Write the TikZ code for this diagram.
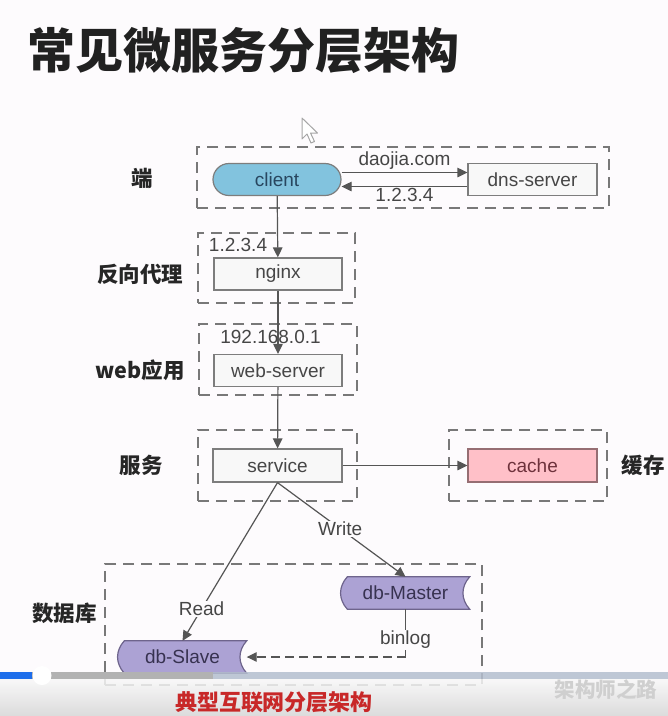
\documentclass[tikz,border=0pt]{standalone}
\usepackage{fontspec}
\setmainfont{Liberation Sans}
\newfontfamily\cjk{Noto Sans CJK SC}
\usetikzlibrary{arrows.meta,backgrounds,calc}

\definecolor{paper}{RGB}{253,251,253}
\definecolor{edgec}{RGB}{85,85,85}
\definecolor{boxline}{RGB}{125,125,125}
\definecolor{boxfill}{RGB}{248,248,248}
\definecolor{txt}{RGB}{70,70,70}
\definecolor{clientfill}{RGB}{130,195,222}
\definecolor{clienttxt}{RGB}{40,70,95}
\definecolor{cachefill}{RGB}{255,192,200}
\definecolor{cacheline}{RGB}{150,110,115}
\definecolor{cachetxt}{RGB}{110,50,60}
\definecolor{dbfill}{RGB}{172,162,212}
\definecolor{dbline}{RGB}{110,100,140}
\definecolor{dbtxt}{RGB}{55,50,80}
\definecolor{grpline}{RGB}{120,120,120}
\definecolor{capred}{RGB}{200,40,40}
\definecolor{barblue}{RGB}{30,110,235}
\definecolor{barrest}{RGB}{180,190,206}

% outline of a "stored data" symbol around a named node
\newcommand\storedata[1]{%
  \filldraw[fill=dbfill, draw=dbline, line width=1.2pt]
    ($(#1.north west)+(6,0)$) -- (#1.north east)
    .. controls ($(#1.north east)+(-9,10)$) and ($(#1.south east)+(-9,-10)$) .. (#1.south east)
    -- ($(#1.south west)+(6,0)$)
    .. controls ($(#1.south west)+(-3,-10)$) and ($(#1.north west)+(-3,10)$) .. cycle;}

\begin{document}
\begin{tikzpicture}[x=1pt,y=-1pt,
  base/.style={font=\fontsize{19}{22}\selectfont, text=txt, inner sep=0pt,
    minimum width=128pt, minimum height=32pt},
  box/.style={base, draw=boxline, fill=boxfill, line width=1.2pt},
  pill/.style={base, draw=boxline, fill=clientfill, text=clienttxt,
    rounded corners=16pt, line width=1.2pt},
  dbnode/.style={base, text=dbtxt},
  grp/.style={draw=grpline, dash pattern=on 11pt off 7pt, line width=1.5pt,
    inner sep=0pt},
  lay/.style={font=\cjk\bfseries\fontsize{21.5}{24}\selectfont, text=black!85,
    inner sep=0pt},
  conn/.style={draw=edgec, line width=1.2pt, -{Triangle[length=10pt,width=9.5pt]}},
  plain/.style={draw=edgec, line width=1.2pt},
  lbl/.style={font=\fontsize{19}{22}\selectfont, text=txt, inner sep=1pt},
]
\useasboundingbox (0,0) rectangle (668,716);
\begin{pgfonlayer}{background}
  \fill[paper] (0,0) rectangle (668,716);
\end{pgfonlayer}

% title
\node[anchor=west, inner sep=0pt, font=\cjk\bfseries\fontsize{48}{52}\selectfont,
  text=black!87] (title) at (27,51) {常见微服务分层架构};

% pointer arrow
\filldraw[fill=white, draw=gray!70, line width=1pt, line join=round]
  (302,118) -- (302,139) -- (307,134) -- (311,143) -- (314.5,141.5)
  -- (310.5,133) -- (317.5,133) -- cycle;

% layer groups
\node[grp, minimum width=412pt, minimum height=61pt] (g1) at (403,177.5) {};
\node[grp, minimum width=157pt, minimum height=70pt] (g2) at (276.5,268) {};
\node[grp, minimum width=158pt, minimum height=71pt] (g3) at (278,359.5) {};
\node[grp, minimum width=159pt, minimum height=71pt] (g4) at (277.5,465.5) {};
\node[grp, minimum width=158pt, minimum height=71pt] (g5) at (528,465.5) {};
\node[grp, minimum width=377pt, minimum height=121pt] (g6) at (293.5,624.5) {};

% layer names
\node[lay] (l1) at (142,178) {端};
\node[lay] (l2) at (140,274) {反向代理};
\node[lay] (l3) at (140,370) {web应用};
\node[lay] (l4) at (141,465) {服务};
\node[lay] (l5) at (643,465) {缓存};
\node[lay] (l6) at (64.5,613) {数据库};

% components
\node[pill] (client) at (277,179.5) {client};
\node[box, minimum width=129pt] (dns) at (532.5,179.5) {dns-server};
\node[box] (nginx) at (278,274) {nginx};
\node[box] (web) at (278,370.5) {web-server};
\node[box, minimum width=129pt, minimum height=33pt] (service) at (277.5,465.5) {service};
\node[box, minimum width=129pt, minimum height=33pt, fill=cachefill, draw=cacheline,
  text=cachetxt] (cache) at (532.5,465.5) {cache};
\node[dbnode] (master) at (405.5,593) {db-Master};
\node[dbnode] (slave) at (182.5,657) {db-Slave};
\begin{pgfonlayer}{background}
  \storedata{master}
  \storedata{slave}
\end{pgfonlayer}

% connectors
\draw[conn] ($(client.east)+(0,-7)$) -- node[lbl, above=1pt] {daojia.com}
  ($(dns.west)+(0,-7)$);
\draw[conn] ($(dns.west)+(0,7)$) -- node[lbl, below=0pt] {1.2.3.4}
  ($(client.east)+(0,7)$);
\draw[conn] (client) -- node[lbl, pos=0.79, left=9pt] {1.2.3.4} (nginx);
\draw[conn] (nginx) -- node[lbl, pos=0.73, xshift=-7.5pt] {192.168.0.1} (web);
\draw[conn] (web) -- (service);
\draw[conn] (service) -- (cache);
\draw[conn] (service.south) -- node[lbl, fill=paper, pos=0.8] {Read} (slave.north);
\draw[conn] (service.south) -- node[lbl, fill=paper, pos=0.49] {Write} (master.north);
\coordinate (bend) at (master.south |- slave.east);
\draw[plain] (master.south) -- node[lbl, fill=paper, pos=0.64] {binlog} (bend);
\draw[conn, dash pattern=on 9pt off 5pt] (bend) -- (slave.east);

% player bar and caption strip
\fill[barrest, opacity=0.85] (213,672) rectangle (668,679);
\fill[gray!60] (32,672) rectangle (213,679);
\fill[barblue] (0,672) rectangle (32,679);
\shade[top color=gray!6, bottom color=gray!32, fill opacity=0.85] (0,679) rectangle (668,716);
\fill[white] (42,675.5) circle (9.5);
\node[inner sep=0pt, font=\cjk\bfseries\fontsize{22}{24}\selectfont, text=capred]
  (caption) at (274,702) {典型互联网分层架构};
\node[inner sep=0pt, font=\cjk\bfseries\fontsize{20.5}{22}\selectfont, text=gray!38]
  (mark) at (606,690) {架构师之路};
\end{tikzpicture}
\end{document}
